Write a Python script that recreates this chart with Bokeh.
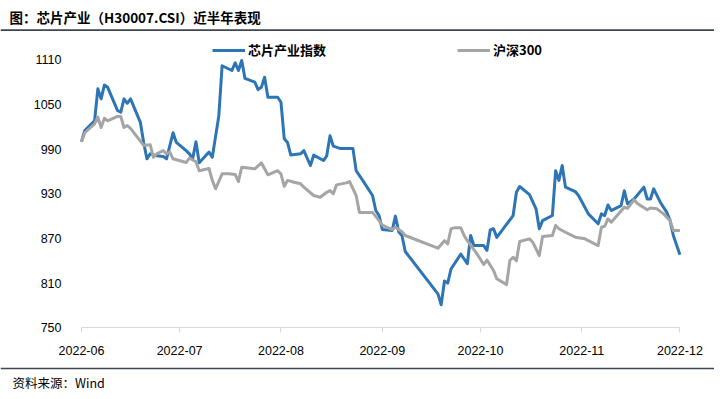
import pandas as pd
from bokeh.plotting import figure
from bokeh.models import Range1d, FixedTicker, Label, BoxAnnotation, Legend, LegendItem
from bokeh.embed import file_html
from bokeh.resources import INLINE

TITLE = "图：芯片产业（H30007.CSI）近半年表现"
SOURCE = "资料来源：Wind"
SERIES_NAMES = ["芯片产业指数", "沪深300"]
Y_TICKS = [750, 810, 870, 930, 990, 1050, 1110]
X_TICK_DATES = ["2022-06-01", "2022-07-01", "2022-08-01", "2022-09-01",
                "2022-10-01", "2022-11-01", "2022-12-01"]
X_TICK_LABELS = ["2022-06", "2022-07", "2022-08", "2022-09", "2022-10", "2022-11", "2022-12"]

chip_dates = [
    "2022-06-01", "2022-06-02", "2022-06-05", "2022-06-06", "2022-06-07", "2022-06-08", "2022-06-09",
    "2022-06-12", "2022-06-13", "2022-06-14", "2022-06-15", "2022-06-16", "2022-06-19", "2022-06-20",
    "2022-06-21", "2022-06-22", "2022-06-24", "2022-06-26", "2022-06-27", "2022-06-29", "2022-06-30",
    "2022-07-03", "2022-07-04", "2022-07-05", "2022-07-06", "2022-07-07", "2022-07-10", "2022-07-11",
    "2022-07-13", "2022-07-14", "2022-07-17", "2022-07-18", "2022-07-19", "2022-07-20", "2022-07-21",
    "2022-07-24", "2022-07-25", "2022-07-26", "2022-07-27", "2022-07-28", "2022-07-31", "2022-08-01",
    "2022-08-02", "2022-08-03", "2022-08-04", "2022-08-07", "2022-08-08", "2022-08-10", "2022-08-11",
    "2022-08-14", "2022-08-15", "2022-08-16", "2022-08-17", "2022-08-19", "2022-08-23", "2022-08-24",
    "2022-08-26", "2022-08-29", "2022-08-30", "2022-08-31", "2022-09-01", "2022-09-04", "2022-09-05",
    "2022-09-06", "2022-09-07", "2022-09-08", "2022-09-18", "2022-09-19", "2022-09-20", "2022-09-21",
    "2022-09-22", "2022-09-25", "2022-09-27", "2022-09-28", "2022-09-29", "2022-10-02", "2022-10-03",
    "2022-10-04", "2022-10-05", "2022-10-06", "2022-10-11", "2022-10-12", "2022-10-13", "2022-10-16",
    "2022-10-18", "2022-10-19", "2022-10-20", "2022-10-23", "2022-10-24", "2022-10-25", "2022-10-26",
    "2022-10-27", "2022-10-30", "2022-10-31", "2022-11-03", "2022-11-06", "2022-11-07", "2022-11-08",
    "2022-11-09", "2022-11-10", "2022-11-13", "2022-11-14", "2022-11-15", "2022-11-17", "2022-11-20",
    "2022-11-21", "2022-11-22", "2022-11-23", "2022-11-25", "2022-11-27", "2022-11-28", "2022-11-29",
    "2022-12-01",
]
chip_values = [
    1000, 1015, 1028, 1071, 1057.5, 1076, 1073,
    1042, 1039.5, 1057.5, 1051.6, 1057.5, 1026, 999,
    977, 983.7, 981, 980, 977, 1012, 999,
    988, 983.7, 977, 1000, 971.6, 986, 979,
    1035, 1102, 1095.6, 1106, 1095.6, 1109, 1085,
    1080, 1070, 1073, 1086.6, 1059.7, 1059.7, 1053,
    1004, 999, 982, 983.7, 988, 968, 982,
    974.7, 981, 1008, 994, 991, 991, 961,
    948, 927.7, 907.5, 900.8, 882, 880.7, 900,
    879, 874, 852.5, 795.6, 781, 813, 810,
    829, 849, 836, 874, 860.5, 860.5, 854,
    881.6, 883, 871.5, 900.8, 932, 939.8, 929,
    909.8, 883, 894, 900.8, 961, 948, 968,
    939, 933, 927.7, 903, 889.7, 903, 900.8,
    915, 907.5, 914, 934, 916.5, 923, 939,
    923, 923, 936.7, 918.7, 905, 894, 874,
    848,
]

hs300_dates = [
    "2022-06-01", "2022-06-02", "2022-06-05", "2022-06-06", "2022-06-07", "2022-06-08", "2022-06-09",
    "2022-06-12", "2022-06-13", "2022-06-14", "2022-06-15", "2022-06-16", "2022-06-20", "2022-06-22",
    "2022-06-23", "2022-06-24", "2022-06-26", "2022-06-27", "2022-06-28", "2022-06-29", "2022-07-03",
    "2022-07-04", "2022-07-06", "2022-07-07", "2022-07-10", "2022-07-11", "2022-07-12", "2022-07-14",
    "2022-07-16", "2022-07-18", "2022-07-19", "2022-07-20", "2022-07-24", "2022-07-26", "2022-07-28",
    "2022-07-31", "2022-08-01", "2022-08-02", "2022-08-03", "2022-08-05", "2022-08-07", "2022-08-08",
    "2022-08-11", "2022-08-13", "2022-08-15", "2022-08-16", "2022-08-17", "2022-08-18", "2022-08-21",
    "2022-08-22", "2022-08-24", "2022-08-25", "2022-08-29", "2022-08-31", "2022-09-01", "2022-09-04",
    "2022-09-05", "2022-09-07", "2022-09-08", "2022-09-18", "2022-09-20", "2022-09-21", "2022-09-22",
    "2022-09-23", "2022-09-25", "2022-09-26", "2022-09-27", "2022-09-30", "2022-10-02", "2022-10-03",
    "2022-10-05", "2022-10-06", "2022-10-09", "2022-10-10", "2022-10-11", "2022-10-12", "2022-10-13",
    "2022-10-16", "2022-10-17", "2022-10-19", "2022-10-20", "2022-10-23", "2022-10-24", "2022-10-25",
    "2022-10-27", "2022-10-30", "2022-11-02", "2022-11-03", "2022-11-06", "2022-11-07", "2022-11-08",
    "2022-11-09", "2022-11-10", "2022-11-14", "2022-11-15", "2022-11-17", "2022-11-18", "2022-11-21",
    "2022-11-22", "2022-11-24", "2022-11-26", "2022-11-28", "2022-11-29", "2022-12-01",
]
hs300_values = [
    1000, 1012, 1024, 1033, 1019, 1031.5, 1028,
    1034, 1034, 1019, 1021.7, 1018, 995, 996,
    979, 983.7, 988, 983.7, 986, 977, 972,
    978, 973, 961, 964, 948, 936.7, 956.8,
    956.8, 956, 946.5, 965.7, 963.5, 971.6, 955.5,
    961, 956.8, 940, 948, 945.5, 943.4, 939,
    927.7, 925.4, 932, 934.4, 930, 942, 944.7,
    946.5, 927.7, 905, 905, 894, 888, 882,
    885, 879, 874, 857, 867, 862.8, 883,
    884.3, 884.3, 874, 867, 849, 835, 841,
    827, 815.8, 808, 840.4, 844.8, 840, 866,
    869.5, 865, 847, 872.6, 874, 887.4, 883,
    878.4, 871.7, 869.5, 867, 860.5, 885, 886.4,
    896.4, 891.8, 912, 910.6, 922, 917, 908.5,
    911, 909.8, 903, 894, 880.7, 880.7,
]

BLUE = "#2E75B6"
GRAY = "#A5A5A5"
DARK = "#3C4654"
AXIS_GRAY = "#D9D9D9"
NUM_FONT = "Liberation Sans"
CJK_FONT = "Noto Sans CJK SC"

W, H = 714, 391
# plot-area anchors in canvas pixels (left/right of the date axis, top/bottom of value axis)
PX_LEFT, PX_RIGHT = 81.0, 679.4
PX_TOP, PX_BOTTOM = 59.3, 327.3

t0 = pd.Timestamp(X_TICK_DATES[0]).value / 1e6
t1 = pd.Timestamp(X_TICK_DATES[-1]).value / 1e6
ms_per_px = (t1 - t0) / (PX_RIGHT - PX_LEFT)
y0, y1 = Y_TICKS[0], Y_TICKS[-1]
u_per_px = (y1 - y0) / (PX_BOTTOM - PX_TOP)

x_range = Range1d(t0 - PX_LEFT * ms_per_px, t1 + (W - PX_RIGHT) * ms_per_px)
y_range = Range1d(y0 - (H - PX_BOTTOM) * u_per_px, y1 + PX_TOP * u_per_px)

p = figure(
    width=W, height=H, x_axis_type="datetime",
    x_range=x_range, y_range=y_range,
    output_backend="svg", toolbar_location=None,
    min_border=0, min_border_left=0, min_border_right=0, min_border_top=0, min_border_bottom=0,
)
p.outline_line_color = None
p.xgrid.visible = False
p.ygrid.visible = False
p.background_fill_color = "white"
p.border_fill_color = "white"

# y axis, drawn at the left edge of the date span
p.yaxis.fixed_location = t0
p.yaxis.bounds = (y0, y1)
p.yaxis.ticker = FixedTicker(ticks=Y_TICKS)
p.yaxis.axis_line_color = None
p.yaxis.major_tick_line_color = None
p.yaxis.minor_tick_line_color = None
p.yaxis.major_tick_out = 0
p.yaxis.major_tick_in = 0
p.yaxis.major_label_standoff = 20
p.yaxis.major_label_text_font = NUM_FONT
p.yaxis.major_label_text_font_size = "12.5px"
p.yaxis.major_label_text_color = "#000000"

# x axis, drawn at the bottom value
tick_ms = [pd.Timestamp(d).value / 1e6 for d in X_TICK_DATES]
p.xaxis.fixed_location = y0
p.xaxis.bounds = (t0, t1)
p.xaxis.ticker = FixedTicker(ticks=tick_ms)
p.xaxis.major_label_overrides = {t: lab for t, lab in zip(tick_ms, X_TICK_LABELS)}
p.xaxis.axis_line_color = AXIS_GRAY
p.xaxis.axis_line_width = 1
p.xaxis.major_tick_line_color = AXIS_GRAY
p.xaxis.major_tick_in = 0
p.xaxis.major_tick_out = 5
p.xaxis.minor_tick_line_color = None
p.xaxis.major_label_standoff = 13
p.xaxis.major_label_text_font = NUM_FONT
p.xaxis.major_label_text_font_size = "12.5px"
p.xaxis.major_label_text_color = "#000000"

r_chip = p.line(pd.to_datetime(chip_dates), chip_values, line_width=3, line_color=BLUE, line_join="round")
r_hs = p.line(pd.to_datetime(hs300_dates), hs300_values, line_width=3, line_color=GRAY, line_join="round")

legend = Legend(
    items=[LegendItem(label=SERIES_NAMES[0], renderers=[r_chip]),
           LegendItem(label=SERIES_NAMES[1], renderers=[r_hs])],
    orientation="horizontal", location=(212, H - 59),
    glyph_width=33, glyph_height=14, label_height=14, label_standoff=3, spacing=131,
    padding=0, margin=0, border_line_color=None, background_fill_alpha=0,
    label_text_font=CJK_FONT, label_text_font_size="13px", label_text_color="#000000",
    label_text_font_style="bold",
)
p.add_layout(legend)

p.add_layout(Label(x=9, y=H - 16, x_units="screen", y_units="screen", text=TITLE,
                   text_font=CJK_FONT, text_font_style="bold", text_font_size="13.5px",
                   text_baseline="middle", text_color="#000000"))
p.add_layout(BoxAnnotation(left=0, right=W, bottom=H - 30.5, top=H - 28.8,
                           left_units="screen", right_units="screen",
                           bottom_units="screen", top_units="screen",
                           fill_color=DARK, fill_alpha=1, line_color=None))
p.add_layout(BoxAnnotation(left=0, right=W, bottom=H - 368.8, top=H - 367.3,
                           left_units="screen", right_units="screen",
                           bottom_units="screen", top_units="screen",
                           fill_color=DARK, fill_alpha=1, line_color=None))
p.add_layout(Label(x=12, y=H - 382, x_units="screen", y_units="screen", text=SOURCE,
                   text_font=CJK_FONT, text_font_size="12.5px",
                   text_baseline="middle", text_color="#000000"))

open("out.html", "w").write(file_html(p, INLINE))
